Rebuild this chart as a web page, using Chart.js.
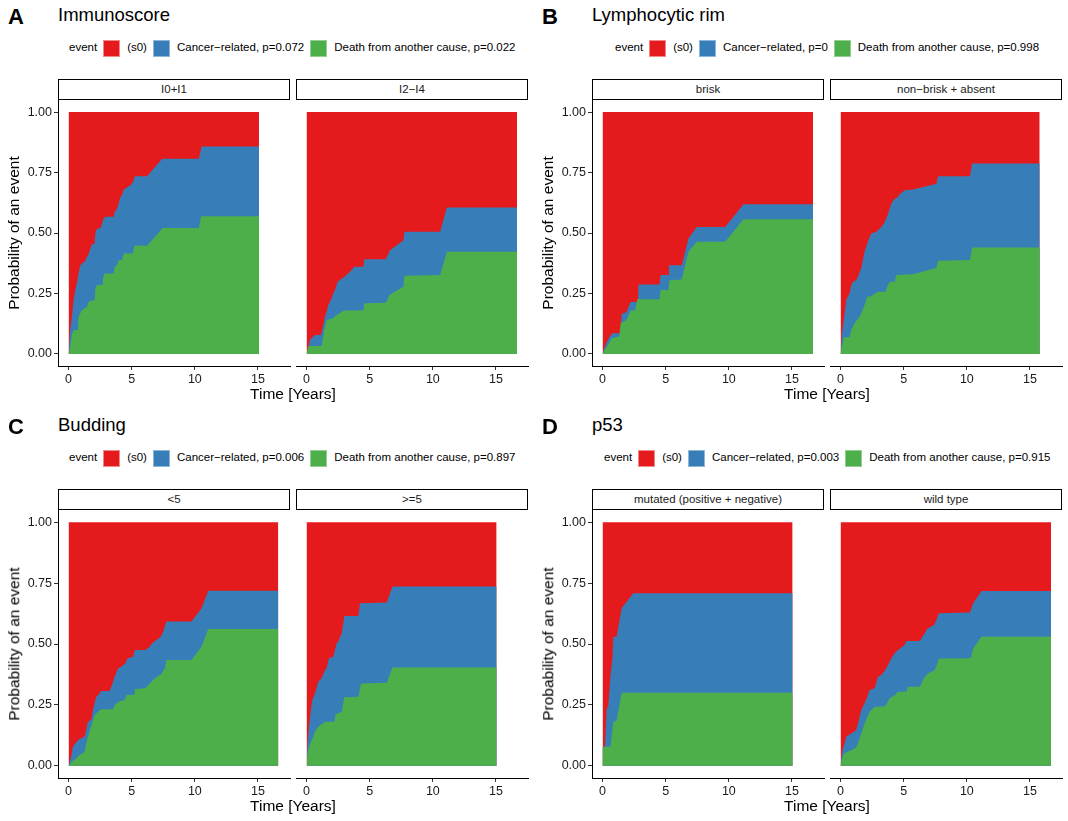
<!DOCTYPE html>
<html><head><meta charset="utf-8">
<script src="https://cdn.jsdelivr.net/npm/chart.js@4.4.1/dist/chart.umd.min.js"></script>
<style>
body{margin:0;width:1068px;height:821px;background:#fff;font-family:"Liberation Sans",Arial,Helvetica,sans-serif;position:relative;overflow:hidden;color:#000}
.abs{position:absolute;white-space:nowrap;line-height:1}
.letter{font-weight:bold;font-size:22px}
.title{font-size:18.5px}
.legend{display:flex;align-items:center;font-size:11.5px;height:18px;color:#000}
.key{width:17px;height:17px;margin:0 7px 0 6px;box-sizing:border-box}
.strip{border:1px solid #000;box-sizing:border-box;font-size:11.5px;text-align:center;line-height:19px;color:#1a1a1a;background:#fff}
.xt{font-size:15.5px}
.yt{font-size:15.5px}
canvas{position:absolute}
</style></head><body>
<script>
// ---------- text / labels ----------
const GROUP_LETTERS = ['A', 'B', 'C', 'D'];
const GROUP_TITLES = ['Immunoscore', 'Lymphocytic rim', 'Budding', 'p53'];
const FACET_LABELS = [['I0+I1', 'I2\u2212I4'], ['brisk', 'non\u2212brisk + absent'], ['<5', '>=5'], ['mutated (positive + negative)', 'wild type']];
const EVENT_NAMES = ['(s0)', 'Cancer\u2212related', 'Death from another cause'];
const P_CANCER = ['0.072', '0', '0.006', '0.003'];
const P_OTHER = ['0.022', '0.998', '0.897', '0.915'];
const X_TICKS = [0, 5, 10, 15];
const Y_TICKS = [0, 0.25, 0.5, 0.75, 1];
const X_RANGE = [-0.835, 17.535];
const Y_RANGE = [-0.05, 1.05];

// ---------- cumulative incidence curves: [years, probability] ----------
// "total" = Cancer-related + Death from another cause (stacked top), "other" = Death from another cause
const immunoI0I1_total = [[0,0],[.13,.099],[.26,.154],[.40,.223],[.53,.264],[.66,.292],[.79,.333],[.93,.367],[1.06,.374],[1.27,.381],[1.46,.402],[1.59,.413],[1.72,.436],[1.85,.454],[2.06,.454],[2.12,.498],[2.25,.519],[2.51,.519],[2.65,.539],[2.78,.560],[2.91,.567],[3.57,.567],[3.65,.587],[3.84,.601],[3.97,.622],[4.10,.649],[4.23,.656],[4.37,.680],[4.89,.697],[5.11,.711],[5.24,.735],[6.22,.735],[7.41,.807],[10.32,.807],[10.53,.858],[15.08,.858]];
const immunoI0I1_other = [[0,0],[.13,.030],[.26,.078],[.40,.099],[.74,.099],[.79,.154],[.93,.168],[1.06,.182],[1.46,.195],[1.59,.216],[2.06,.223],[2.12,.271],[2.25,.285],[2.65,.285],[2.72,.312],[2.86,.333],[3.57,.333],[3.65,.360],[3.84,.367],[3.97,.388],[4.23,.388],[4.37,.415],[5.08,.415],[5.21,.447],[6.22,.447],[7.46,.521],[10.32,.521],[10.50,.569],[15.08,.569]];
const immunoI2I4_total = [[0,0],[.13,.017],[.26,.058],[.66,.078],[1.14,.078],[1.24,.099],[1.46,.154],[1.59,.175],[1.72,.202],[1.93,.223],[2.12,.250],[2.30,.271],[2.46,.298],[2.99,.319],[3.44,.340],[3.78,.360],[4.50,.360],[4.58,.391],[6.27,.391],[6.61,.429],[7.67,.470],[7.75,.505],[10.58,.505],[11.11,.605],[16.67,.605]];
const immunoI2I4_other = [[0,0],[.13,.033],[1.19,.033],[1.40,.099],[1.59,.140],[2.12,.147],[2.25,.157],[2.99,.179],[4.50,.179],[4.58,.209],[6.27,.212],[6.61,.246],[7.67,.278],[7.75,.323],[10.58,.326],[11.11,.422],[16.67,.422]];
const rimBrisk_total = [[0,0],[.11,.019],[.32,.047],[.53,.069],[.79,.085],[1.43,.085],[1.51,.165],[1.90,.173],[2.22,.215],[2.80,.215],[2.85,.287],[4.50,.287],[4.60,.326],[5.21,.326],[5.26,.367],[6.27,.367],[6.80,.477],[7.46,.525],[9.71,.525],[11.16,.619],[16.67,.619]];
const rimBrisk_other = [[0,0],[.19,.019],[.45,.037],[.71,.065],[1.32,.072],[1.43,.127],[1.90,.140],[2.22,.179],[2.57,.179],[2.75,.226],[4.50,.226],[4.60,.264],[5.21,.264],[5.29,.305],[6.27,.308],[6.80,.422],[7.46,.464],[9.71,.464],[11.16,.557],[16.67,.557]];
const rimNon_total = [[0,0],[.11,.085],[.26,.140],[.45,.223],[.58,.237],[.71,.250],[.85,.285],[.98,.298],[1.24,.305],[1.38,.319],[1.51,.340],[1.64,.354],[1.77,.388],[1.90,.422],[2.12,.457],[2.30,.484],[2.43,.498],[2.83,.505],[3.10,.519],[3.23,.525],[3.44,.539],[3.62,.560],[3.76,.580],[4.02,.622],[4.29,.642],[4.55,.649],[4.68,.660],[5.08,.677],[5.74,.680],[7.59,.704],[7.72,.735],[10.24,.735],[10.42,.787],[15.77,.787]];
const rimNon_other = [[0,0],[.05,.017],[.26,.069],[.71,.069],[.85,.099],[1.11,.127],[1.51,.154],[1.64,.168],[1.90,.202],[2.12,.237],[2.43,.237],[2.70,.250],[2.96,.257],[3.54,.257],[3.70,.278],[3.89,.298],[4.29,.298],[4.42,.326],[5.74,.329],[7.59,.356],[7.72,.385],[10.24,.388],[10.42,.440],[15.77,.440]];
const buddingLt5_total = [[0,0],[.21,.037],[.34,.078],[.53,.092],[.74,.105],[.95,.112],[1.27,.119],[1.40,.147],[1.53,.181],[1.80,.188],[1.93,.229],[2.06,.256],[2.20,.284],[2.33,.290],[2.59,.307],[3.25,.307],[3.44,.332],[3.65,.366],[3.92,.400],[4.18,.407],[4.50,.421],[4.66,.441],[5.11,.448],[5.24,.475],[6.08,.475],[6.43,.489],[6.61,.503],[6.96,.516],[7.30,.530],[7.49,.551],[7.62,.571],[7.75,.592],[9.74,.592],[10.53,.647],[11.06,.719],[16.61,.719]];
const buddingLt5_other = [[0,0],[.16,.010],[.34,.021],[.61,.030],[.87,.044],[1.27,.058],[1.40,.092],[1.53,.119],[1.85,.174],[2.06,.208],[2.33,.222],[2.59,.232],[3.52,.232],[3.65,.249],[3.92,.263],[4.44,.270],[4.58,.290],[5.19,.293],[5.24,.315],[6.08,.318],[6.43,.338],[6.83,.359],[7.35,.377],[7.62,.400],[7.75,.434],[9.74,.434],[10.53,.489],[11.06,.562],[16.61,.562]];
const buddingGe5_total = [[0,0],[.03,.037],[.08,.092],[.19,.160],[.34,.229],[.45,.270],[.61,.290],[.71,.304],[.93,.345],[1.19,.359],[1.46,.393],[1.59,.400],[1.77,.441],[2.12,.448],[2.25,.475],[2.38,.503],[2.51,.510],[2.78,.544],[2.91,.585],[2.99,.615],[4.10,.615],[4.23,.667],[6.35,.670],[6.80,.736],[15.05,.736]];
const buddingGe5_other = [[0,0],[.03,.023],[.08,.051],[.19,.078],[.40,.105],[.53,.119],[.66,.140],[.93,.160],[1.19,.171],[1.51,.181],[2.20,.181],[2.30,.212],[2.78,.222],[2.99,.281],[4.10,.284],[4.31,.338],[6.35,.341],[6.80,.404],[15.05,.404]];
const p53Mut_total = [[0,.078],[.19,.078],[.33,.236],[.45,.243],[.63,.373],[.79,.444],[.85,.530],[1.11,.530],[1.51,.647],[2.43,.708],[15.05,.708]];
const p53Mut_other = [[0,.078],[.63,.078],[.85,.181],[1.11,.185],[1.51,.300],[15.05,.300]];
const p53Wild_total = [[0,0],[.05,.030],[.19,.071],[.32,.092],[.45,.119],[.85,.133],[1.24,.147],[1.38,.174],[1.51,.201],[1.64,.229],[1.90,.256],[2.12,.284],[2.30,.311],[2.70,.318],[2.96,.366],[3.23,.373],[3.54,.393],[3.76,.414],[4.02,.441],[4.29,.462],[4.55,.475],[5.08,.496],[5.21,.512],[6.27,.512],[6.67,.544],[6.88,.564],[7.41,.578],[7.59,.599],[7.78,.626],[10.24,.629],[10.50,.667],[11.16,.718],[16.67,.718]];
const p53Wild_other = [[0,0],[.05,.016],[.26,.051],[.58,.058],[.85,.064],[1.24,.075],[1.51,.112],[1.64,.133],[1.90,.174],[2.12,.201],[2.30,.222],[2.70,.242],[3.54,.245],[3.70,.259],[3.89,.277],[4.29,.290],[4.55,.304],[5.21,.304],[5.34,.325],[6.27,.325],[6.67,.366],[6.93,.379],[7.46,.393],[7.67,.421],[7.78,.440],[10.32,.441],[10.50,.482],[11.16,.530],[16.67,.530]];

// ---------- build ----------
const COLORS = ['#E41A1C', '#377EB8', '#4DAF4A']; // (s0), cancer, other
const FONT = '"Liberation Sans", Arial, Helvetica, sans-serif';
const CURVES = [
  [[immunoI0I1_total, immunoI0I1_other], [immunoI2I4_total, immunoI2I4_other]],
  [[rimBrisk_total, rimBrisk_other], [rimNon_total, rimNon_other]],
  [[buddingLt5_total, buddingLt5_other], [buddingGe5_total, buddingGe5_other]],
  [[p53Mut_total, p53Mut_other], [p53Wild_total, p53Wild_other]]
];
const GROUP_POS = [
  {dx: 0, dy: 0, top: 100, h: 266, legendLeft: 69},
  {dx: 534, dy: 0, top: 100, h: 266, legendLeft: 615},
  {dx: 0, dy: 410, top: 510, h: 268, legendLeft: 69},
  {dx: 534, dy: 410, top: 510, h: 268, legendLeft: 604}
];
const PANEL_W = 232, PANEL_LEFTS = [58, 296], Y_AXIS_W = 52, X_AXIS_H = 30, PAD = 6;

function addDiv(cls, text, style) {
  const d = document.createElement('div');
  d.className = 'abs ' + cls;
  if (text !== null) d.textContent = text;
  Object.assign(d.style, style);
  document.body.appendChild(d);
  return d;
}
const toXY = arr => arr.map(([x, y]) => ({x, y}));

function makeChart(left, top, total, other, showY, h) {
  const cv = document.createElement('canvas');
  const padL = showY ? Y_AXIS_W : PAD;
  cv.width = padL + PANEL_W + PAD;
  cv.height = h + X_AXIS_H;
  cv.style.left = (left - padL) + 'px';
  cv.style.top = top + 'px';
  cv.style.width = cv.width + 'px';
  cv.style.height = cv.height + 'px';
  document.body.appendChild(cv);
  const tEnd = total[total.length - 1][0];
  const tickFont = {family: FONT, size: 12.5};
  new Chart(cv.getContext('2d'), {
    type: 'line',
    data: {
      datasets: [
        {label: EVENT_NAMES[2], data: toXY(other), backgroundColor: COLORS[2], borderWidth: 0, fill: 'origin', pointRadius: 0, order: 1},
        {label: EVENT_NAMES[1], data: toXY(total), backgroundColor: COLORS[1], borderWidth: 0, fill: 'origin', pointRadius: 0, order: 2},
        {label: EVENT_NAMES[0], data: toXY([[0, 1], [tEnd, 1]]), backgroundColor: COLORS[0], borderWidth: 0, fill: 'origin', pointRadius: 0, order: 3}
      ]
    },
    options: {
      responsive: false, animation: false, devicePixelRatio: 1,
      layout: {padding: {left: showY ? 0 : PAD, right: PAD, top: 0, bottom: 0}},
      plugins: {legend: {display: false}, tooltip: {enabled: false}, title: {display: false}},
      elements: {line: {tension: 0, borderWidth: 0}, point: {radius: 0}},
      scales: {
        x: {
          type: 'linear', min: X_RANGE[0], max: X_RANGE[1],
          afterBuildTicks: s => { s.ticks = X_TICKS.map(v => ({value: v})); },
          afterFit: s => { s.height = X_AXIS_H; s.paddingLeft = 0; s.paddingRight = 0; },
          grid: {drawOnChartArea: false, drawTicks: true, tickLength: 4, tickColor: '#333', color: '#333'},
          border: {display: true, color: '#000', width: 1},
          ticks: {color: '#1a1a1a', font: tickFont, padding: 2, maxRotation: 0, autoSkip: false, callback: v => String(v)}
        },
        y: {
          type: 'linear', display: showY, min: Y_RANGE[0], max: Y_RANGE[1],
          afterBuildTicks: s => { s.ticks = Y_TICKS.map(v => ({value: v})); },
          afterFit: s => { s.width = showY ? Y_AXIS_W : 0; s.paddingTop = 0; s.paddingBottom = 0; },
          grid: {drawOnChartArea: false, drawTicks: true, tickLength: 4, tickColor: '#333', color: '#333'},
          border: {display: true, color: '#000', width: 1},
          ticks: {color: '#1a1a1a', font: tickFont, padding: 2, autoSkip: false, callback: v => Number(v).toFixed(2)}
        }
      }
    }
  });
}

GROUP_LETTERS.forEach((letter, gi) => {
  const p = GROUP_POS[gi];
  addDiv('letter', letter, {left: (8 + p.dx) + 'px', top: (17 + p.dy - 11) + 'px'});
  addDiv('title', GROUP_TITLES[gi], {left: (58 + p.dx) + 'px', top: (14.5 + p.dy - 9) + 'px'});
  // legend
  const lg = addDiv('legend', null, {left: p.legendLeft + 'px', top: (48 + p.dy - 9) + 'px'});
  const labels = [EVENT_NAMES[0], EVENT_NAMES[1] + ', p=' + P_CANCER[gi], EVENT_NAMES[2] + ', p=' + P_OTHER[gi]];
  const t = document.createElement('span'); t.textContent = 'event'; lg.appendChild(t);
  labels.forEach((lab, i) => {
    const k = document.createElement('span'); k.className = 'key'; k.style.background = COLORS[i];
    k.style.border = '1px solid ' + ['#f08a8b', '#8fb6d9', '#93cf91'][i];
    lg.appendChild(k);
    const s = document.createElement('span'); s.textContent = lab; lg.appendChild(s);
  });
  // facets
  FACET_LABELS[gi].forEach((fl, fi) => {
    const left = PANEL_LEFTS[fi] + p.dx;
    addDiv('strip', fl, {left: left + 'px', top: (p.top - 21) + 'px', width: PANEL_W + 'px', height: '21px'});
    makeChart(left, p.top, CURVES[gi][fi][0], CURVES[gi][fi][1], fi === 0, p.h);
  });
  // axis titles
  addDiv('xt', 'Time [Years]', {left: (293 + p.dx) + 'px', top: (p.top + p.h + 28) + 'px', transform: 'translate(-50%,-50%)'});
  addDiv('yt', 'Probability of an event', {left: (14 + p.dx) + 'px', top: (p.top + p.h / 2) + 'px', transform: 'translate(-50%,-50%) rotate(-90deg)'});
});
</script>
</body></html>
